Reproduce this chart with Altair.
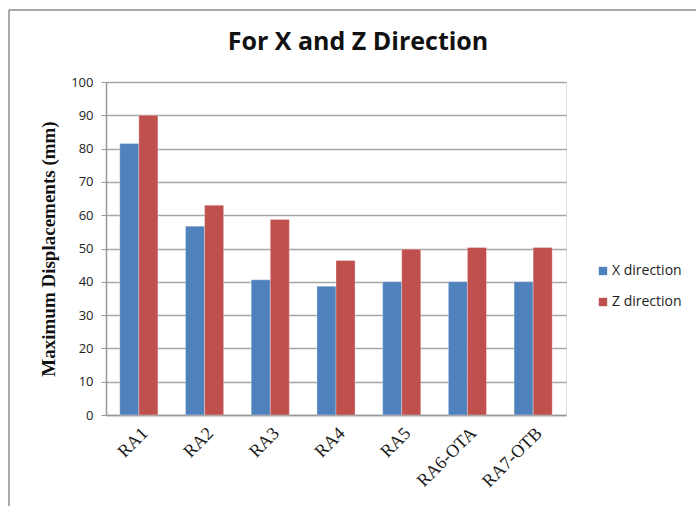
import altair as alt
import pandas as pd

# Maximum displacement per retrofit alternative (mm)
cases = ["RA1", "RA2", "RA3", "RA4", "RA5", "RA6-OTA", "RA7-OTB"]
x_direction = [81.5, 56.7, 40.6, 38.7, 40.0, 40.0, 40.0]
z_direction = [90.0, 63.0, 58.7, 46.4, 49.8, 50.3, 50.3]
series = ["X direction", "Z direction"]
colors = ["#4F81BD", "#C0504D"]
chart_title = "For X and Z Direction"

rows = []
for c, xv, zv in zip(cases, x_direction, z_direction):
    rows.append({"case": c, "series": series[0], "value": xv})
    rows.append({"case": c, "series": series[1], "value": zv})
df = pd.DataFrame(rows)

bars = alt.Chart(df).mark_bar(stroke="white", strokeWidth=0.5, strokeOpacity=0.6).encode(
    x=alt.X("case:N", sort=cases, title=None,
            scale=alt.Scale(paddingInner=0.42, paddingOuter=0.21),
            axis=alt.Axis(labelAngle=-45, labelFont="Liberation Serif", labelFontSize=18,
                          labelColor="#1a1a1a", ticks=False, domainColor="#999",
                          domainWidth=1.5, labelPadding=9)),
    xOffset=alt.XOffset("series:N", sort=series),
    y=alt.Y("value:Q", title="Maximum Displacements (mm)",
            scale=alt.Scale(domain=[0, 100], nice=False),
            axis=alt.Axis(values=list(range(0, 101, 10)), grid=True, gridColor="#a6a6a6",
                          gridWidth=1.5, domainColor="#999", domainWidth=1.5,
                          tickColor="#999", tickSize=5, labelFont="Open Sans",
                          labelFontSize=13, labelColor="#222", labelPadding=8,
                          titleFont="Liberation Serif", titleFontSize=19,
                          titleFontWeight="bold", titleColor="#111", titlePadding=12)),
    color=alt.Color("series:N", sort=series,
                    scale=alt.Scale(domain=series, range=colors),
                    legend=alt.Legend(title=None, orient="none", legendX=490, legendY=182,
                                      symbolType="square", symbolSize=70,
                                      symbolStrokeWidth=0, labelFont="Open Sans",
                                      labelFontSize=14, labelColor="#222",
                                      rowPadding=17, labelOffset=2)),
)

src = alt.Chart(pd.DataFrame({"label": [chart_title]}))
title_text = src.mark_text(font="Open Sans", fontSize=25, fontWeight="bold",
                           color="#111", align="center", baseline="middle").encode(
    text="label:N", x=alt.value(252), y=alt.value(-40))
frame_left = src.mark_rule(color="#8c8c8c", strokeWidth=1.5).encode(
    x=alt.value(-97), y=alt.value(-72), y2=alt.value(430))
frame_top = src.mark_rule(color="#8c8c8c", strokeWidth=1.5).encode(
    x=alt.value(-97), x2=alt.value(600), y=alt.value(-72))

chart = alt.layer(bars, title_text, frame_left, frame_top).properties(
    width=460, height=333,
    autosize=alt.AutoSizeParams(type="none"),
    padding={"left": 106, "top": 82, "right": 130, "bottom": 91},
).configure_view(stroke=None, clip=False).configure(background="white")

chart.save("out.html", embed_options={"renderer": "svg", "actions": False})
